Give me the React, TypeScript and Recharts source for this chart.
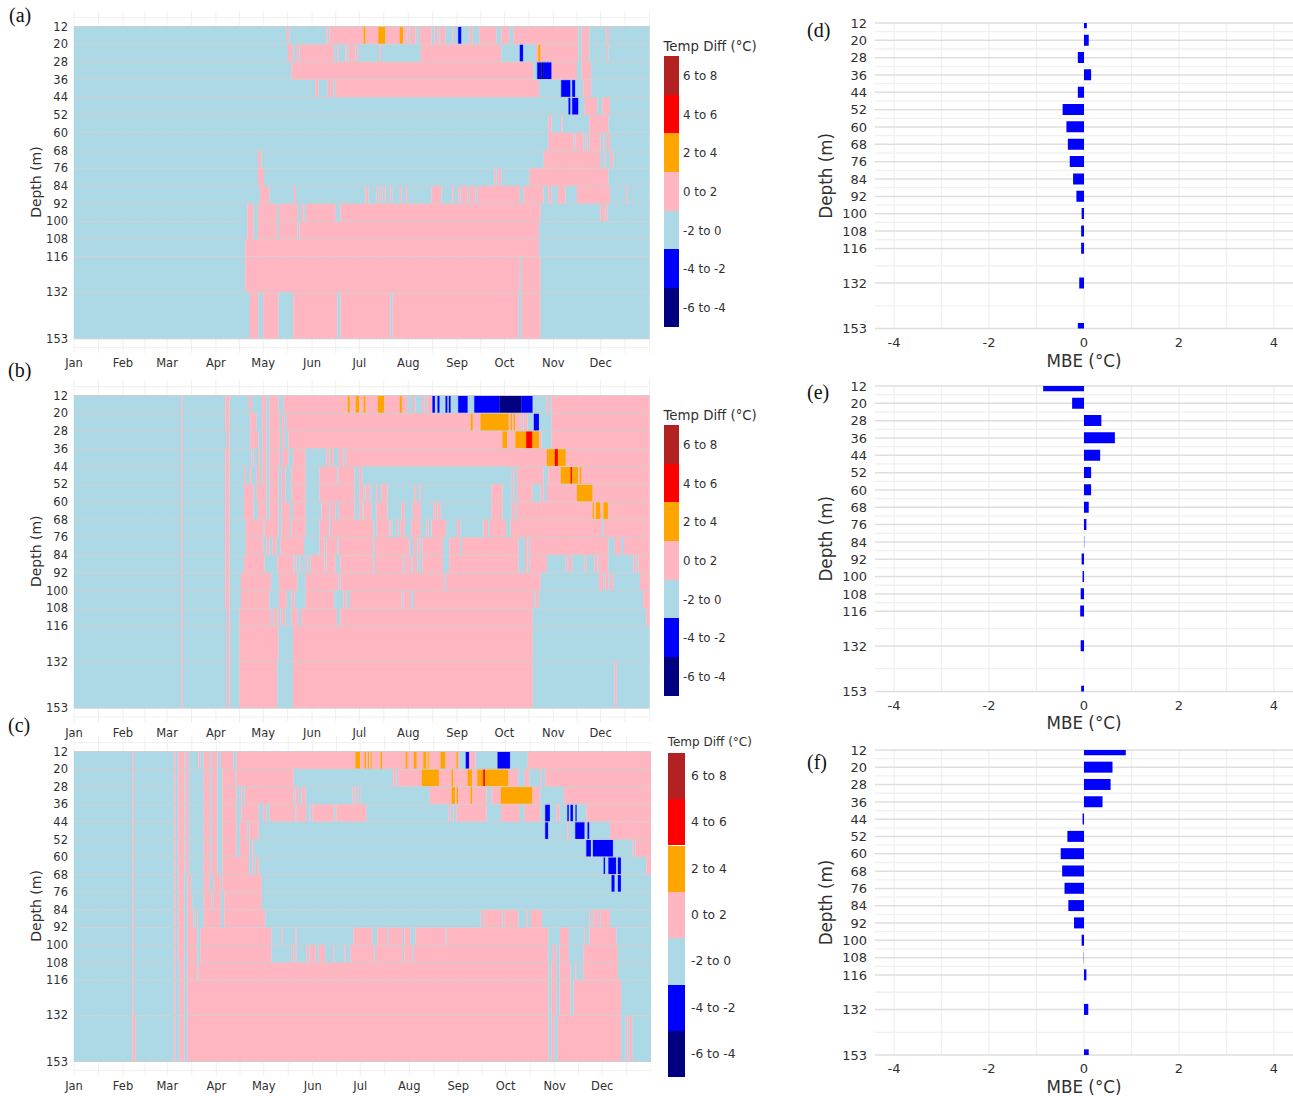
import {
  BarChart,
  Bar,
  ComposedChart,
  XAxis,
  YAxis,
  CartesianGrid,
  ReferenceArea,
  ReferenceLine,
} from "recharts";

// bin codes for the temperature difference classes
const N = 0;
const B = 1;
const L = 2;
const P = 3;
const O = 4;
const R = 5;

const BIN_COLORS = ["#000080", "#0000FF", "#ADD8E6", "#FFB6C1", "#FFA500", "#FF0000", "#B22222"];
const LEGEND_LABELS = ["6 to 8", "4 to 6", "2 to 4", "0 to 2", "-2 to 0", "-4 to -2", "-6 to -4"];
const LEGEND_BINS = [6, 5, 4, 3, 2, 1, 0];

const MONTHS = ["Jan", "Feb", "Mar", "Apr", "May", "Jun", "Jul", "Aug", "Sep", "Oct", "Nov", "Dec"];
const MONTH_DAYS = [0, 31, 59, 90, 120, 151, 181, 212, 243, 273, 304, 334];
const HALF_MONTH_DAYS = [0, 15.5, 31, 45, 59, 74.5, 90, 105, 120, 135.5, 151, 166, 181, 196.5, 212, 227.5, 243, 258, 273, 288.5, 304, 319, 334, 349.5, 365];
const DEPTHS = [12, 20, 28, 36, 44, 52, 60, 68, 76, 84, 92, 100, 108, 116, 132, 153];
const MINOR_DEPTHS = [16, 24, 32, 40, 48, 56, 64, 72, 80, 88, 96, 104, 112, 124, 142.5];
const MBE_TICKS = [-4, -2, 0, 2, 4];
const MBE_GRID = [-4, -3, -2, -1, 0, 1, 2, 3, 4];

// each row is one depth band: start day, bin, start day, bin, ...
const panelARuns = [
  [0,L,135,P,136.5,L,160,P,161,L,162,P,183.7,O,185,P,193,O,197.6,P,206.7,O,208.8,P,211.6,L,212.6,P,216.6,L,218,P,218.8,L,220,P,226.8,L,228.7,P,230.4,L,231.7,P,235.7,L,240,P,241,L,243.7,B,245.8,L,251,P,252.8,L,257,P,268,L,271,P,276,L,278.8,P,319.8,L,322,P,326.8,L,337.8,P,339.3,L],
  [0,L,135.7,P,139,L,140.8,P,142,L,143,P,165,L,167,P,168,L,172,P,173,L,174.2,P,178.6,L,179.6,P,180.7,L,193.6,P,194.7,L,220,P,271,L,282.8,B,285,L,293,P,294.4,O,296,P,319.8,L,322,P,326.8,L,338,P,339,L],
  [0,L,138,P,291.3,L,293.8,B,296.6,N,298,B,303,P,319,L,322,P,328,L],
  [0,L,153,P,155,L,161,P,164.5,L,166,P,295,L,309,B,315,L,316,B,318,L,323,P,328,L],
  [0,L,313.7,B,315,L,316,B,320,L,324,P,332,L,335,P,340,L],
  [0,L,301,P,303,L,309,P,310,L,326.8,P,339,L],
  [0,L,301,P,317,L,318,P,323,L,324.5,P,325.7,L,327,P,334,L,335.7,P,336.7,L,338,P,340,L],
  [0,L,116.7,P,118.8,L,298,P,334,L,336,P,337,L,340,P,342,L],
  [0,L,116.7,P,120.5,L,266.7,P,268,L,269,P,271,L,289,P,339,L],
  [0,L,118,P,124,L,139.5,P,140.8,L,185,P,186.8,L,192,P,193,L,194.6,P,195.7,L,196.7,P,197.6,L,200.6,P,201.8,L,206.7,P,207.8,L,210.7,P,211.8,L,226.8,P,233,L,240,P,241,L,243.7,P,245.2,L,246,P,249.8,L,251,P,254.7,L,256,P,282.8,L,285,P,297.8,L,300.8,P,303,L,307,P,311.8,L,319,P,340,L,350,P,351,L],
  [0,L,110,P,114,L,116.7,P,128.7,L,130,P,142,L,144,P,145.6,L,147,P,166,L,169,P,296,L,334,P,336.7,L,337.2,P,338.4,L],
  [0,L,110,P,114,L,116.7,P,128.7,L,130,P,141.8,L,143,P,295,L],
  [0,L,108.7,P,295,L],
  [0,L,108.7,P,282.8,L,284,P,296,L],
  [0,L,111.6,P,117,L,120,P,129.8,L,139,P,167,L,169,P,200.6,L,202,P,282,L,284,P,296,L],
];

const panelBRuns = [
  [0,L,68,P,69,L,96,P,98.7,L,111,P,112.9,L,119.4,P,122,L,124,P,129.8,L,133,P,173.6,O,175,P,178.6,O,181,P,183.7,O,185,P,192.8,O,196.8,P,206.7,O,208,P,211.8,L,215,P,216.6,L,220.7,P,222.5,L,224,P,227.4,B,229,L,230.6,B,232,L,235.7,B,237,L,237.8,B,239,L,243.7,B,249.8,L,253.9,B,270,N,283.9,B,291,L,299.7,P,301.2,L,303,P],
  [0,L,68,P,69,L,96,P,98.7,L,111.8,P,115.8,L,119.4,P,122,L,124,P,130.6,L,132,P,133.6,L,135,P,251.7,O,253,P,257.9,O,275.8,P,277,O,278,P,278.8,O,279.9,P,283.9,L,285,P,287.7,L,291.7,B,295,L,303,P],
  [0,L,68,P,69,L,97,P,98.7,L,111.8,P,117,L,119.4,P,122,L,124,P,130.6,L,132,P,133.6,L,136,P,271.8,O,274.8,P,279.9,O,286.8,R,290.8,O,295,P,296.5,L,303,P],
  [0,L,68,P,69,L,96,P,98.7,L,112.7,P,114,L,116.7,P,117.8,L,119.4,P,122,L,124,P,130.6,L,132,P,136,L,139,P,147,L,160,P,162,L,163,P,164.8,L,168,P,171,L,172.4,P,300,O,305,R,307,O,312,P],
  [0,L,68,P,69,L,96,P,98.7,L,107.8,P,109,L,111.8,P,112.9,L,116,P,118,L,119.4,P,122,L,124,P,129.8,L,131.7,P,134,L,138,P,147,L,155.8,P,167,L,168,P,178,L,181,P,182.8,L,277.7,P,278.8,L,281,P,297.8,L,300.8,P,308.8,O,315,R,316,O,319.8,P,320.9,O,322,P],
  [0,L,68,P,69,L,96,P,98.7,L,107.8,P,114,L,116,P,122,L,124,P,129.8,L,131.7,P,134,L,138,P,147,L,155.8,P,178,L,181,P,183.7,L,185,P,187.3,L,188.5,P,189,L,191.7,P,192.8,L,194.9,P,198.9,L,215.8,P,216.9,L,219,P,220,L,264.8,P,271.8,L,277.7,P,278.8,L,281,P,291,L,296,P,297.8,L,300,P,319,O,329,P],
  [0,L,68,P,69,L,96,P,98.7,L,107.8,P,114,L,116.7,P,122,L,124,P,129.8,L,131.7,P,137,L,138.9,P,147,L,157,P,162,L,163,P,166,L,168,P,178,L,181,P,182.8,L,183.7,P,188.7,L,191.9,P,198.9,L,207.8,P,209.8,L,214.9,P,220,L,227.9,P,229.5,L,230.4,P,232.7,L,264.8,P,271.8,L,277.7,P,279.9,L,281,P,329,O,330,P,331,O,334,P,335.8,O,338.8,P],
  [0,L,68,P,69,L,96,P,98.7,L,109,P,120,L,121,P,129.8,L,131.7,P,137,L,138,P,147,L,155.8,P,162,L,163,P,189.8,L,192,P,200,L,200.8,P,201.8,L,204.8,P,205.8,L,206.9,P,209.8,L,214,P,220,L,223.6,P,224.9,L,226.8,P,236,L,243,P,245,L,259.8,P,262.7,L,263.8,P,274,L,277,P,334.8,L,336,P],
  [0,L,68,P,69,L,96,P,98.7,L,109,P,120,L,122,P,124,L,126,P,128.6,L,131,P,145.9,L,155.8,P,159,L,160,P,167,L,168,P,189.8,L,190.9,P,212.8,L,215,P,216.9,L,217.9,P,219.8,L,220.9,P,234,L,238,P,244.8,L,246,P,282,L,286,P,287.7,L,288.9,P,339,L,343,P,347,L,348.8,P],
  [0,L,68,P,69,L,96,P,98.7,L,107.8,P,121,L,129,P,139,L,140,P,141,L,143,P,144,L,147,P,148,L,150,P,159,L,160,P,166,L,169,P,189.8,L,190.9,P,208.8,L,209.9,P,213.9,L,214.9,P,216.9,L,217.9,P,219,L,220.9,P,234,L,238,P,282,L,286,P,287.7,L,288.9,P,300,L,311.8,P,312.8,L,313.9,P,316,L,323.8,P,324.9,L,330,P,331.9,L,332.9,P,338.8,L,355,P,356.8,L,358,P],
  [0,L,68,P,69,L,96,P,98.7,L,105.9,P,125,L,130,P,141.8,L,147,P,167.8,L,169,P,234.8,L,235.9,P,296,L,333,P,335.8,L,336.9,P,338.8,L,339.9,P,342,L,359,P],
  [0,L,68,P,69,L,96,P,98.7,L,105.9,P,124,L,130,P,135,L,138,P,140,L,147,P,165,L,171,P,173,L,175,P,207.8,L,208.8,P,213.9,L,215.6,P,291.7,L,292.8,P,295,L,361,P],
  [0,L,68,P,69,L,97,P,98.7,L,105,P,125,L,126.3,P,129,L,130,P,131,L,132,P,134,L,138,P,142,L,144,P,166.8,L,169,P,291,L,363,P],
  [0,L,68,P,69,L,97,P,98.7,L,105,P,129.8,L,138.9,P,291,L],
  [0,L,68,P,69,L,97,P,98.7,L,105,P,129,L,138.9,P,291,L,342.9,P,344.3,L],
];

const panelCRuns = [
  [0,L,36.8,P,37.8,L,63.1,P,64.2,L,65.9,P,69.7,L,70.7,P,72.8,L,78.7,P,80,L,82.1,P,85.9,L,87,P,90.7,L,92.9,P,100.9,L,102.8,P,178,O,181,P,183.8,O,184.8,P,185.9,O,186.7,P,188,O,188.8,P,193.9,O,195,P,209.7,O,211,P,215,O,216.8,P,220.9,O,223,P,224,O,224.9,P,231.8,O,235,P,242,O,243,P,243.8,L,247.8,B,250,P,254,L,267.9,B,275.9,L,287,P],
  [0,L,36.8,P,37.8,L,63.1,P,64.2,L,65.9,P,69.7,L,70.7,P,72.8,L,82.1,P,85.9,L,87,P,90.7,L,93.9,P,101.9,L,102.8,P,139,L,201.9,P,204,L,205,P,220,O,230.8,P,238.8,O,240,P,248.9,O,251.8,P,255,O,258.8,R,260,O,274.8,P,281,L,285,P,288,L,295,P,295.9,L,298,P],
  [0,L,36.8,P,37.8,L,63.1,P,64.2,L,65.9,P,69.7,L,70.7,P,72.8,L,82.1,P,85.9,L,87,P,90.7,L,93.9,P,102.8,L,104.9,P,105.9,L,108,P,139,L,140,P,142.2,L,144,P,146.6,L,176.1,P,177.2,L,178.2,P,179,L,180.1,P,181,L,225,P,238.8,O,241,P,242,O,243,P,250.8,O,252,P,261,L,264,P,270,O,290,P,295,L,309.8,P],
  [0,L,36.8,P,37.8,L,63.1,P,64.2,L,65.9,P,69.7,L,70.7,P,72.8,L,82.1,P,85.9,L,87,P,90.7,L,93.9,P,102.8,L,105.9,P,116.9,L,119.8,P,121.7,L,123.8,P,139.9,L,140.9,P,146.8,L,148.9,P,149.8,L,150.8,P,164.7,L,166,P,185,L,237,P,238,L,239,P,240,L,242,P,261,L,270,P,282,L,285,P,295,L,298,B,301,L,305,P,307,L,312,B,313,L,314,B,315.7,L,317.2,B,318,L,324,P],
  [0,L,36.8,P,37.8,L,63.1,P,64.2,L,65.9,P,69.7,L,70.7,P,72.8,L,82.1,P,85.9,L,87,P,90.7,L,93.9,P,102.8,L,104.9,P,109.9,L,111,P,116.9,L,298,B,300,L,312,P,313,L,317,B,323,L,324.8,B,326,L,339,P],
  [0,L,36.8,P,37.8,L,63.1,P,64.2,L,65.9,P,69.7,L,70.7,P,72.8,L,82.1,P,85.9,L,87,P,90.7,L,93.9,P,102.8,L,104.9,P,111,L,112.9,P,113.9,L,324,B,327,L,328.2,B,341,L,353,P,354,L,355,P],
  [0,L,36.8,P,37.8,L,63.1,P,64.2,L,65.9,P,69.7,L,70.7,P,72.8,L,82.1,P,85.9,L,87,P,90.7,L,93.9,P,110.8,L,112.9,P,113.9,L,115,P,116.9,L,335,B,336,L,338,B,343,L,344,B,346,L,362,P],
  [0,L,36.8,P,37.8,L,63.1,P,64.2,L,65.9,P,69.7,L,71.8,P,74.1,L,82.1,P,85.9,L,88,P,92.9,L,93.9,P,118.8,L,340,B,342,L,344,B,346,L],
  [0,L,36.8,P,37.8,L,63.1,P,64.2,L,65.9,P,69.7,L,71.8,P,74.7,L,82.1,P,87,L,88,P,92.9,L,95,P,118.8,L],
  [0,L,36.8,P,37.8,L,63.1,P,64.2,L,65.9,P,69.7,L,71.8,P,75.4,L,77,P,77.9,L,82.1,P,92.9,L,95,P,120.9,L,257,P,258,L,259.2,P,271,L,272,P,281,L,286,P,287,L,289,P,296,L,326,P,327,L,328.3,P,332,L,333,P,339,L],
  [0,L,36.8,P,37.8,L,63.1,P,64.2,L,65.9,P,69.7,L,71.8,P,77.9,L,80,P,124.9,L,131,P,131.9,L,139.9,P,140.9,L,176.8,P,188.6,L,191.8,P,198,L,199,P,208,L,209,P,212.8,L,216,P,235,L,235.8,P,300,L,307.3,P,313,L,323,P,323.8,L,326,P,343,L],
  [0,L,36.8,P,37.8,L,63.1,P,64.2,L,65.9,P,69.7,L,71.8,P,77.9,L,80,P,124.9,L,137.7,P,138.8,L,139.9,P,140.9,L,146.8,P,147.9,L,148.9,P,152.9,L,154.8,P,158.8,L,163.9,P,164.7,L,170.9,P,171.9,L,174.9,P,190,L,191,P,208,L,209,P,214,L,215,P,300,L,303,P,305,L,307,P,313,L,322,P,344,L],
  [0,L,36.8,P,37.8,L,63.1,P,64.2,L,66.9,P,69.9,L,71.8,P,77.9,L,78.9,P,300,L,302,P,305,L,307,P,314,L,317,P,318,L,322,P,344,L],
  [0,L,36.8,P,37.8,L,63.1,P,64.2,L,66.9,P,69.9,L,71.8,P,300,L,302,P,305,L,307,P,314,L,316,P,346,L],
  [0,L,36.8,P,38.9,L,63.1,P,64.2,L,66.9,P,69.9,L,71.8,P,300,L,302,P,304,L,306,P,346,L,349,P,350,L,351,P,353,L],
];

const mbeD = [0.06, 0.1, -0.13, 0.15, -0.13, -0.45, -0.37, -0.34, -0.3, -0.23, -0.16, -0.05, -0.06, -0.06, -0.1, -0.13];
const mbeE = [-0.86, -0.25, 0.365, 0.65, 0.34, 0.15, 0.15, 0.1, 0.05, 0.005, -0.05, -0.03, -0.07, -0.08, -0.07, -0.06];
const mbeF = [0.88, 0.6, 0.56, 0.39, -0.03, -0.35, -0.49, -0.46, -0.41, -0.33, -0.21, -0.05, -0.005, 0.05, 0.09, 0.1];

const FONT = "'DejaVu Sans', sans-serif";
const TEXT_COLOR = "#303030";

function HeatPanel({ runs, y12, y153, left, right }: { runs: number[][]; y12: number; y153: number; left: number; right: number }) {
  const axisWidth = 60;
  const padTop = 15.5;
  const padBottom = 14.4;
  const mPerPx = 141 / (y153 - y12);
  const plotH = y153 - y12 + padTop + padBottom;
  const data = DEPTHS.map((depth) => ({ day: 0, depth }));
  const cells: any[] = [];
  runs.forEach((row, r) => {
    for (let i = 0; i < row.length; i += 2) {
      const end = i + 2 < row.length ? row[i + 2] : 365;
      cells.push(
        <ReferenceArea
          key={`${r}-${i}`}
          x1={row[i]}
          x2={end}
          y1={DEPTHS[r]}
          y2={DEPTHS[r + 1]}
          fill={BIN_COLORS[row[i + 1]]}
          fillOpacity={1}
          stroke={BIN_COLORS[row[i + 1]]}
          strokeWidth={0.3}
          ifOverflow="visible"
        />
      );
    }
  });
  return (
    <div style={{ position: "absolute", left: left - axisWidth, top: y12 - padTop }}>
      <ComposedChart
        width={right - left + axisWidth}
        height={plotH + 28}
        margin={{ top: 0, right: 0, bottom: 0, left: 0 }}
        data={data}
      >
        <CartesianGrid
          stroke="#efefef"
          strokeWidth={1}
          verticalValues={HALF_MONTH_DAYS}
          horizontalValues={[8, 157]}
        />
        <XAxis
          type="number"
          dataKey="day"
          domain={[0, 365]}
          allowDataOverflow
          ticks={MONTH_DAYS}
          interval={0}
          tickFormatter={(v: number) => MONTHS[MONTH_DAYS.indexOf(v)]}
          axisLine={false}
          tickLine={false}
          height={28}
          tick={{ fontSize: 11.5, fill: TEXT_COLOR, fontFamily: FONT }}
          tickMargin={0}
        />
        <YAxis
          type="number"
          dataKey="depth"
          reversed
          allowDataOverflow
          domain={[12 - padTop * mPerPx, 153 + padBottom * mPerPx]}
          ticks={DEPTHS}
          interval={0}
          axisLine={false}
          tickLine={false}
          width={axisWidth}
          tick={{ fontSize: 11.5, fill: TEXT_COLOR, fontFamily: FONT }}
          tickMargin={0}
          label={{
            value: "Depth (m)",
            angle: -90,
            position: "center",
            dx: -8,
            style: { fontSize: 14, fill: TEXT_COLOR, fontFamily: FONT, textAnchor: "middle" },
          }}
        />
        {cells}
        {DEPTHS.map((d) => (
          <ReferenceLine key={d} y={d} stroke="#cfcfcf" strokeWidth={1} ifOverflow="visible" />
        ))}
      </ComposedChart>
    </div>
  );
}

function MbePanel({ values, y12, y153 }: { values: number[]; y12: number; y153: number }) {
  const axisWidth = 63;
  const chartLeft = 812;
  const topPad = 8;
  const data = DEPTHS.map((depth, i) => ({ depth, mbe: values[i] }));
  return (
    <div style={{ position: "absolute", left: chartLeft, top: y12 - topPad }}>
      <BarChart
        layout="vertical"
        width={1293 - chartLeft}
        height={y153 - y12 + topPad + 41}
        margin={{ top: topPad, right: 0, bottom: 0, left: 0 }}
        data={data}
      >
        <CartesianGrid stroke="#f0f0f0" strokeWidth={1.3} verticalValues={MBE_GRID} horizontalValues={MINOR_DEPTHS} />
        <CartesianGrid stroke="#dedede" strokeWidth={1.5} vertical={false} horizontalValues={DEPTHS} />
        <XAxis
          type="number"
          domain={[-4.4, 4.4]}
          ticks={MBE_TICKS}
          interval={0}
          axisLine={false}
          tickLine={false}
          height={41}
          tick={{ fontSize: 13, fill: TEXT_COLOR, fontFamily: FONT }}
          tickMargin={3}
          label={{
            value: "MBE (°C)",
            position: "insideBottom",
            offset: 3,
            style: { fontSize: 16.75, fill: TEXT_COLOR, fontFamily: FONT },
          }}
        />
        <YAxis
          type="number"
          dataKey="depth"
          allowDataOverflow
          domain={[12, 153]}
          ticks={DEPTHS}
          interval={0}
          axisLine={false}
          tickLine={false}
          width={axisWidth}
          tick={{ fontSize: 13, fill: TEXT_COLOR, fontFamily: FONT }}
          tickMargin={2}
          label={{
            value: "Depth (m)",
            angle: -90,
            position: "center",
            dx: -17,
            style: { fontSize: 16.75, fill: TEXT_COLOR, fontFamily: FONT, textAnchor: "middle" },
          }}
        />
        <Bar dataKey="mbe" fill="#0000FF" barSize={11} isAnimationActive={false} />
      </BarChart>
    </div>
  );
}

function BinLegend({ x, top, rowH, swatchW, labelX, labelDy, titleY, titleSize, labelSize }: any) {
  return (
    <>
      <div
        style={{
          position: "absolute",
          left: x,
          top: titleY - 10,
          height: 20,
          lineHeight: "20px",
          fontSize: titleSize,
          color: TEXT_COLOR,
          whiteSpace: "nowrap",
        }}
      >
        Temp Diff (°C)
      </div>
      {LEGEND_LABELS.map((label, i) => (
        <div key={label}>
          <div
            style={{
              position: "absolute",
              left: x,
              top: top + i * rowH,
              width: swatchW,
              height: rowH,
              background: BIN_COLORS[LEGEND_BINS[i]],
            }}
          />
          <div
            style={{
              position: "absolute",
              left: labelX,
              top: top + i * rowH + labelDy,
              height: rowH,
              lineHeight: `${rowH}px`,
              fontSize: labelSize,
              color: TEXT_COLOR,
              whiteSpace: "nowrap",
            }}
          >
            {label}
          </div>
        </div>
      ))}
    </>
  );
}

const PANEL_LABELS = [
  { text: "(a)", x: 9, y: 15 },
  { text: "(b)", x: 8, y: 370 },
  { text: "(c)", x: 8, y: 725 },
  { text: "(d)", x: 807, y: 30 },
  { text: "(e)", x: 807, y: 392 },
  { text: "(f)", x: 807, y: 762 },
];

export default function App() {
  return (
    <div
      style={{
        position: "absolute",
        left: 0,
        top: 0,
        width: 1293,
        height: 1096,
        overflow: "hidden",
        background: "#fff",
        fontFamily: FONT,
      }}
    >
      <HeatPanel runs={panelARuns} y12={26.7} y153={339} left={74} right={649.5} />
      <HeatPanel runs={panelBRuns} y12={395.7} y153={708.3} left={74} right={649.5} />
      <HeatPanel runs={panelCRuns} y12={751.7} y153={1061.7} left={73.5} right={650.7} />

      <BinLegend x={663.5} top={56} rowH={38.67} swatchW={15} labelX={683} labelDy={1} titleY={47} titleSize={13.3} labelSize={11.8} />
      <BinLegend x={663.5} top={425} rowH={38.67} swatchW={15} labelX={683} labelDy={1} titleY={416} titleSize={13.3} labelSize={11.8} />
      <BinLegend x={667.7} top={752.7} rowH={46.4} swatchW={17.6} labelX={691} labelDy={0} titleY={741.7} titleSize={12} labelSize={12.25} />

      <MbePanel values={mbeD} y12={22.7} y153={328.3} />
      <MbePanel values={mbeE} y12={386.3} y153={691.7} />
      <MbePanel values={mbeF} y12={749.7} y153={1054.7} />

      {PANEL_LABELS.map((p) => (
        <div
          key={p.text}
          style={{
            position: "absolute",
            left: p.x,
            top: p.y - 12,
            height: 24,
            lineHeight: "24px",
            fontFamily: "'Liberation Serif', serif",
            fontSize: 20,
            color: "#111",
          }}
        >
          {p.text}
        </div>
      ))}
    </div>
  );
}
